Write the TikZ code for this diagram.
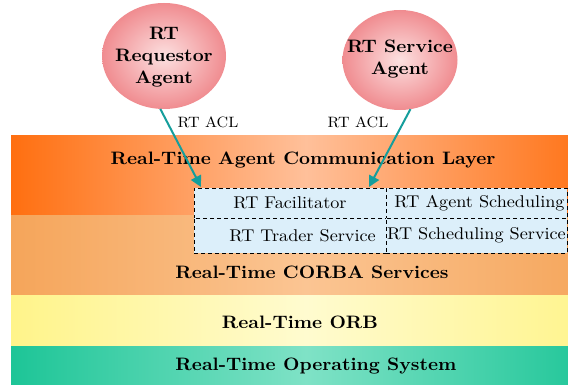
\documentclass[tikz,border=0pt]{standalone}
\usepackage{fontspec}
\usetikzlibrary{shapes.geometric,arrows.meta}
% slightly widened Latin Modern faces for labels
\newfontfamily\cellfont[Extension=.otf, UprightFont=*-regular, BoldFont=*-bold, FakeStretch=1.07]{lmroman10}
\newfontfamily\headfont[Extension=.otf, UprightFont=*-regular, BoldFont=*-bold, FakeStretch=1.06]{lmroman10}
\definecolor{aclDark}{HTML}{FF6F10}
\definecolor{aclLight}{HTML}{FFC09A}
\definecolor{corbaDark}{HTML}{F5A55A}
\definecolor{corbaLight}{HTML}{FBC593}
\definecolor{orbDark}{HTML}{FFF48A}
\definecolor{orbLight}{HTML}{FFFBCF}
\definecolor{osDark}{HTML}{1DC597}
\definecolor{osLight}{HTML}{7FE2C6}
\definecolor{agentOuter}{HTML}{F08C90}
\definecolor{agentInner}{HTML}{FCE0E0}
\definecolor{cellBlue}{HTML}{DCEFFA}
\definecolor{arrowTeal}{HTML}{159E9C}
\tikzset{
  layer/.style={rectangle, anchor=north west, minimum width=590pt, inner sep=0pt, outer sep=0pt},
  layertext/.style={font=\headfont\fontsize{18}{20}\selectfont\bfseries},
  agent/.style={ellipse, inner color=agentInner, outer color=agentOuter, inner sep=0pt, outer sep=0pt},
  agenttext/.style={align=center, inner sep=0pt, font=\headfont\fontsize{18}{22}\selectfont\bfseries},
  cell/.style={rectangle, anchor=north west, fill=cellBlue, draw=black, line width=0.9pt,
    dash pattern=on 4pt off 3pt, inner sep=0pt, outer sep=0pt},
  celltext/.style={font=\cellfont\fontsize{17}{18}\selectfont, inner sep=0pt},
  acl/.style={draw=arrowTeal, line width=2pt, -{Triangle[width=11pt,length=11pt]}},
  acllabel/.style={font=\cellfont\fontsize{15}{16}\selectfont, inner sep=0pt}
}
\begin{document}
\begin{tikzpicture}[x=1pt, y=-1pt]
\useasboundingbox[fill=white] (0,0) rectangle (568,385);
\clip (0,0) rectangle (568,385);

% protocol stack, top to bottom
\node[layer, minimum height=80pt, left color=aclDark, right color=aclDark, middle color=aclLight] (acl) at (11,136) {};
\node[layer, minimum height=79pt, left color=corbaDark, right color=corbaDark, middle color=corbaLight] (corba) at (11,216) {};
\node[layer, minimum height=51pt, left color=orbDark, right color=orbDark, middle color=orbLight] (orb) at (11,295) {};
\node[layer, minimum height=40pt, left color=osDark, right color=osDark, middle color=osLight] (os) at (11,346) {};

\node[layertext] (aclT) at (303,160) {Real-Time Agent Communication Layer};
\node[layertext] (corbaT) at (312,272) {Real-Time CORBA Services};
\node[layertext] (orbT) at (300,322) {Real-Time ORB};
\node[layertext] (osT) at (316,366) {Real-Time Operating System};

% real-time services grid
\node[cell, minimum width=192pt, minimum height=30pt] (fac) at (194,188) {};
\node[cell, minimum width=181pt, minimum height=30pt] (ags) at (386,188) {};
\node[cell, minimum width=192pt, minimum height=35pt] (trd) at (194,218) {};
\node[cell, minimum width=181pt, minimum height=35pt] (sch) at (386,218) {};

\node[celltext] (facT) at (fac.center) {RT Facilitator};
\node[celltext] (agsT) at ([xshift=3pt]ags.center) {RT Agent Scheduling};
\node[celltext, anchor=east] (trdT) at ([xshift=-10pt]trd.east) {RT Trader Service};
\node[celltext] (schT) at (sch.center) {RT Scheduling Service};

% agents
\node[agent, minimum width=124pt, minimum height=106pt] (req) at (164,56) {};
\node[agent, minimum width=115pt, minimum height=100pt] (rsa) at (400,60) {};
\node[agenttext] (reqT) at ([yshift=-1pt]req.center) {RT\\Requestor\\Agent};
\node[agenttext] (rsaT) at ([yshift=1pt]rsa.center) {RT Service\\Agent};

% ACL messages into the facilitator
\coordinate (tip1) at (201,187);
\coordinate (tip2) at (369,187);
\draw[acl] (req.-94) -- (tip1);
\draw[acl] (rsa.-78) -- (tip2);
\node[acllabel] (lab1) at (208,122) {RT ACL};
\node[acllabel] (lab2) at (358,122) {RT ACL};
\end{tikzpicture}
\end{document}
